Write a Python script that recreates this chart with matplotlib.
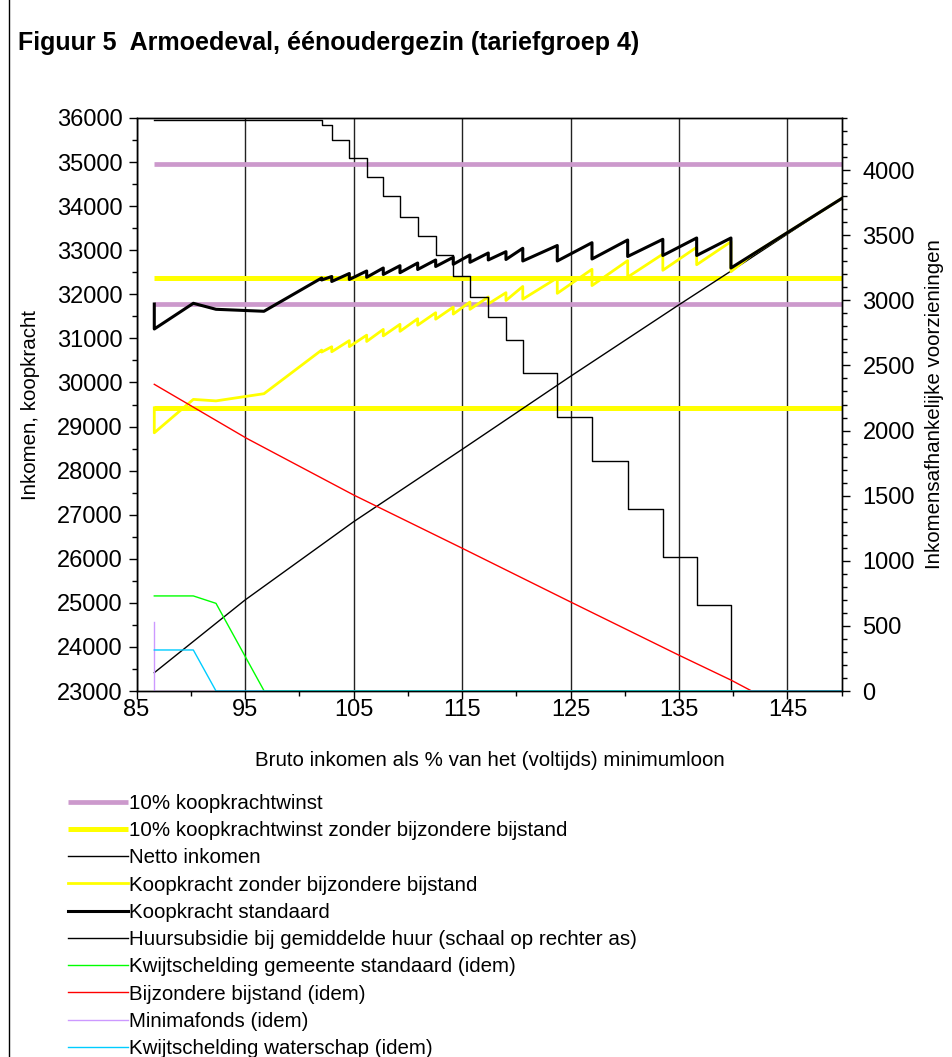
import matplotlib
matplotlib.use("Agg")
from matplotlib import pyplot as plt
from matplotlib.lines import Line2D
from matplotlib.ticker import MultipleLocator

plt.rcParams['font.family'] = ['Liberation Sans', 'DejaVu Sans']

nan = float('nan')
x0 = 86.63  # eerste punt van alle reeksen

# 10% lijnen (linker as), twee losse horizontale lijnen per reeks
tien_x = [x0, 150, nan, x0, 150]
tien_kk = [31780, 31780, nan, 34958, 34958]
tien_zbb = [29425, 29425, nan, 32368, 32368]

netto_x = [x0, 95.0, 105.01, 115.02, 124.95, 134.97, 139.70, 150]
netto_y = [23415, 25065, 26841, 28484, 30131, 31758, 32513, 34174]

# inkomensgrenzen waar de huursubsidie een trede zakt
stap_x = [102.06, 102.99, 104.61, 106.21, 107.74, 109.28, 110.91, 112.57, 114.19,
          115.73, 117.42, 119.05, 120.60, 123.78, 126.98, 130.27, 133.51, 136.63, 139.79]

# koopkracht standaard: begin, dan top/bodem per trede, dan eind
kk_begin_x = [x0, x0, 90.23, 92.32, 96.74]
kk_begin_y = [31780, 31213, 31796, 31660, 31615]
kk_top = [32370, 32404, 32472, 32529, 32597, 32649, 32710, 32778, 32840, 32892,
          32937, 32967, 33044, 33107, 33171, 33232, 33248, 33278, 33278]
kk_bodem = [32325, 32291, 32336, 32386, 32450, 32490, 32563, 32631, 32681, 32726,
            32779, 32790, 32756, 32756, 32801, 32858, 32881, 32881, 32597]
kk_eind_x = [150]
kk_eind_y = [34174]

# koopkracht zonder bijzondere bijstand
kz_begin_y = [29425, 28858, 29616, 29582, 29745]
kz_top = [30735, 30810, 30949, 31073, 31204, 31319, 31446, 31582, 31710, 31825,
          31940, 32037, 32178, 32373, 32568, 32764, 32912, 33068, 33194]
kz_bodem = [30690, 30697, 30813, 30930, 31057, 31160, 31299, 31435, 31551, 31659,
            31782, 31860, 31890, 32022, 32198, 32390, 32545, 32671, 32513]
kz_eind_x = [141.70, 150]
kz_eind_y = [32892, 34174]

# rechter as
hs_x = [x0] + stap_x + [150]
hs_y = [4385, 4346, 4231, 4095, 3949, 3801, 3642, 3494, 3348, 3189, 3023,
        2870, 2698, 2440, 2106, 1766, 1395, 1027, 658, 0, 0]
gem_x = [x0, 90.23, 92.32, 96.76, 150]
gem_y = [730, 730, 673, 0, 0]
bb_x = [x0, 95.15, 105.01, 115.02, 124.95, 134.97, 139.79, 141.70, 150]
bb_y = [2355, 1940, 1505, 1096, 686, 276, 84, 0, 0]
mf_x = [x0, x0, 150]
mf_y = [528, 0, 0]
ws_x = [x0, 90.23, 92.32, 150]
ws_y = [315, 315, 0, 0]

x_major = [85, 95, 105, 115, 125, 135, 145]
x_minor = [90, 100, 110, 120, 130, 140, 150]

labels = ["10% koopkrachtwinst",
          "10% koopkrachtwinst zonder bijzondere bijstand",
          "Netto inkomen",
          "Koopkracht zonder bijzondere bijstand",
          "Koopkracht standaard",
          "Huursubsidie bij gemiddelde huur (schaal op rechter as)",
          "Kwijtschelding gemeente standaard (idem)",
          "Bijzondere bijstand (idem)",
          "Minimafonds (idem)",
          "Kwijtschelding waterschap (idem)"]

kk_x = list(kk_begin_x)
kk_y = list(kk_begin_y)
kz_x = list(kk_begin_x)
kz_y = list(kz_begin_y)
for i in range(len(stap_x)):
    kk_x += [stap_x[i], stap_x[i]]
    kk_y += [kk_top[i], kk_bodem[i]]
    kz_x += [stap_x[i], stap_x[i]]
    kz_y += [kz_top[i], kz_bodem[i]]
kk_x += kk_eind_x
kk_y += kk_eind_y
kz_x += kz_eind_x
kz_y += kz_eind_y

W, H = 953, 1057
fig = plt.figure(figsize=(W / 100, H / 100), dpi=100)
ax = fig.add_axes([136.6 / W, 1 - 691 / H, 705.1 / W, 573 / H])
ax2 = ax.twinx()

h = []
h += ax.plot(tien_x, tien_kk, color='#CC99CC', lw=3.4, solid_capstyle='butt')
h += ax.plot(tien_x, tien_zbb, color='#FFFF00', lw=3.6, solid_capstyle='butt')
h += ax.plot(netto_x, netto_y, color='black', lw=1.0)
h += ax.plot(kz_x, kz_y, color='#FFFF00', lw=2.0)
h += ax.plot(kk_x, kk_y, color='black', lw=2.2)
h += ax2.step(hs_x, hs_y, where='post', color='black', lw=1.0)
h += ax2.plot(gem_x, gem_y, color='#00FF00', lw=1.0)
h += ax2.plot(bb_x, bb_y, color='#FF0000', lw=1.0)
h += ax2.plot(mf_x, mf_y, color='#CC99FF', lw=1.0)
h += ax2.plot(ws_x, ws_y, color='#00CCFF', lw=1.0)

ax.set_xlim(85, 150)
ax.set_ylim(23000, 36000)
ax2.set_ylim(0, 4400)
ax.set_xticks(x_major)
ax.set_xticks(x_minor, minor=True)
ax.yaxis.set_major_locator(MultipleLocator(1000))
ax.yaxis.set_minor_locator(MultipleLocator(500))
ax2.yaxis.set_major_locator(MultipleLocator(500))
ax2.yaxis.set_minor_locator(MultipleLocator(100))

for a in (ax, ax2):
    for s in a.spines.values():
        s.set_linewidth(1.0)
    a.tick_params(which='major', direction='out', length=6, width=1.0,
                  labelsize=17, pad=4)
    a.tick_params(which='minor', direction='out', length=3.5, width=1.0)
ax.tick_params(axis='x', pad=0)
ax2.tick_params(axis='y', pad=9)
ax.grid(True, axis='x', which='major', color='#222222', lw=1.0)

ax.set_xlabel("Bruto inkomen als % van het (voltijds) minimumloon", fontsize=14.8)
ax.xaxis.set_label_coords((490 - 136.6) / 705.1, (691 - 760) / 573)
ax.xaxis.label.set_va('center')
ax.set_ylabel("Inkomen, koopkracht", fontsize=14.8)
ax.yaxis.set_label_coords((30 - 136.6) / 705.1, 0.5)
ax.yaxis.label.set_va('center')
ax2.set_ylabel("Inkomensafhankelijke voorzieningen", fontsize=14.8)
ax2.yaxis.set_label_coords((935 - 136.6) / 705.1, 0.5)
ax2.yaxis.label.set_va('center')

fig.text(18 / W, 1 - 43 / H, "Figuur 5  Armoedeval, éénoudergezin (tariefgroep 4)",
         fontsize=18, fontweight='bold', ha='left', va='center')

fig.legend(h, labels, loc='upper left', bbox_to_anchor=(68 / W, 1 - 794 / H),
           frameon=False, fontsize=14.8, handlelength=2.9, handletextpad=0.05,
           labelspacing=0.40, borderpad=0, borderaxespad=0)

# kader links langs de figuur
fig.add_artist(Line2D([9 / W, 9 / W], [0, 1], transform=fig.transFigure,
                      color='black', lw=1.0))

fig.savefig('out.png', dpi=100)
